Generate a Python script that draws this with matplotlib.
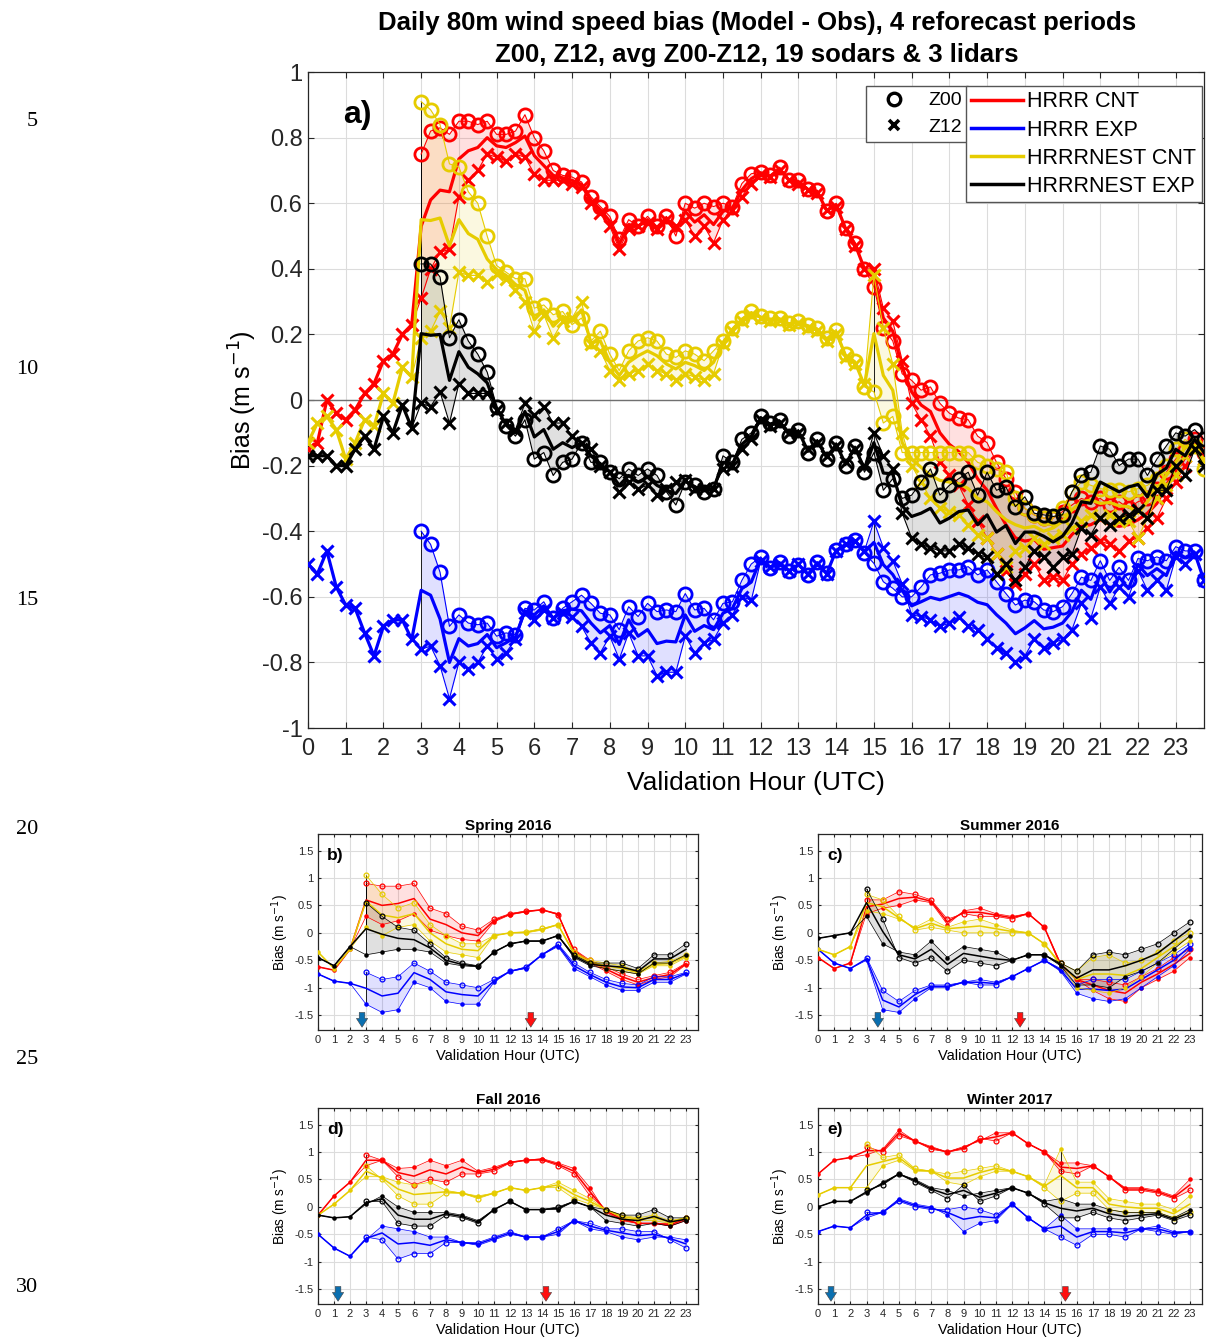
import numpy as np
import matplotlib
matplotlib.use('Agg')
import matplotlib.pyplot as plt
from matplotlib.lines import Line2D

plt.rcParams['font.family'] = ['Liberation Sans', 'DejaVu Sans']
nan = np.nan

models = ['HRRR CNT', 'HRRR EXP', 'HRRRNEST CNT', 'HRRRNEST EXP']
colors = ['#ff0000', '#0000ff', '#e6cc00', '#000000']

# ---- panel a: 15-min validation times, Z00 starts at 03 UTC ----
hours = np.arange(0, 24, 0.25)

hrrr_cnt_z12 = [-0.15, -0.13, 0.00, -0.04, -0.06, -0.03, 0.02, 0.05,
                0.12, 0.14, 0.20, 0.23, 0.31, 0.40, 0.45, 0.46,
                0.62, 0.67, 0.70, 0.75, 0.74, 0.73, 0.75, 0.74,
                0.69, 0.67, 0.67, 0.67, 0.66, 0.65, 0.60, 0.57,
                0.53, 0.46, 0.52, 0.53, 0.54, 0.52, 0.55, 0.53,
                0.55, 0.50, 0.53, 0.48, 0.55, 0.58, 0.62, 0.66,
                0.69, 0.68, 0.70, 0.67, 0.66, 0.64, 0.63, 0.58,
                0.59, 0.52, 0.47, 0.40, 0.40, 0.28, 0.24, 0.12,
                -0.01, -0.06, -0.11, -0.19, -0.23, -0.26, -0.32, -0.37,
                -0.42, -0.47, -0.52, -0.56, -0.53, -0.50, -0.55, -0.54,
                -0.55, -0.50, -0.47, -0.45, -0.43, -0.44, -0.46, -0.43,
                -0.42, -0.39, -0.36, -0.30, -0.25, -0.20, -0.15, -0.18]
hrrr_cnt_z00 = [0.75, 0.82, 0.83, 0.81, 0.85, 0.85, 0.84, 0.85,
                0.81, 0.81, 0.82, 0.87, 0.80, 0.76, 0.70, 0.685,
                0.68, 0.665, 0.62, 0.59, 0.56, 0.49, 0.55, 0.53,
                0.56, 0.53, 0.56, 0.50, 0.60, 0.585, 0.60, 0.59,
                0.60, 0.59, 0.66, 0.69, 0.695, 0.685, 0.71, 0.67,
                0.67, 0.645, 0.64, 0.575, 0.60, 0.525, 0.48, 0.40,
                0.345, 0.22, 0.18, 0.08, 0.06, 0.03, 0.04, -0.01,
                -0.04, -0.055, -0.06, -0.11, -0.13, -0.19, -0.24, -0.28,
                -0.33, -0.35, -0.36, -0.36, -0.34, -0.32, -0.30, -0.31,
                -0.30, -0.32, -0.31, -0.33, -0.31, -0.30, -0.27, -0.22,
                -0.18, -0.15, -0.12, -0.16]

hrrr_exp_z12 = [-0.50, -0.53, -0.46, -0.57, -0.625, -0.635, -0.71, -0.78,
                -0.69, -0.67, -0.67, -0.73, -0.76, -0.75, -0.81, -0.91,
                -0.80, -0.82, -0.80, -0.75, -0.79, -0.77, -0.73, -0.65,
                -0.67, -0.64, -0.665, -0.65, -0.66, -0.69, -0.74, -0.77,
                -0.72, -0.79, -0.71, -0.78, -0.78, -0.84, -0.83, -0.83,
                -0.72, -0.77, -0.74, -0.73, -0.68, -0.655, -0.60, -0.61,
                -0.49, -0.51, -0.50, -0.52, -0.50, -0.53, -0.50, -0.53,
                -0.46, -0.44, -0.43, -0.46, -0.37, -0.45, -0.49, -0.56,
                -0.655, -0.66, -0.67, -0.69, -0.68, -0.66, -0.69, -0.70,
                -0.73, -0.755, -0.77, -0.80, -0.78, -0.73, -0.755, -0.74,
                -0.73, -0.70, -0.62, -0.665, -0.57, -0.62, -0.57, -0.60,
                -0.52, -0.58, -0.55, -0.58, -0.48, -0.50, -0.47, -0.55]
hrrr_exp_z00 = [-0.40, -0.44, -0.525, -0.69, -0.655, -0.68, -0.685, -0.68,
                -0.72, -0.71, -0.715, -0.635, -0.64, -0.615, -0.665, -0.635,
                -0.615, -0.595, -0.62, -0.65, -0.655, -0.70, -0.63, -0.66,
                -0.62, -0.645, -0.64, -0.645, -0.59, -0.64, -0.635, -0.67,
                -0.62, -0.615, -0.55, -0.50, -0.478, -0.513, -0.493, -0.52,
                -0.503, -0.533, -0.493, -0.528, -0.457, -0.44, -0.427, -0.467,
                -0.498, -0.554, -0.574, -0.60, -0.60, -0.57, -0.533, -0.528,
                -0.518, -0.518, -0.508, -0.533, -0.518, -0.554, -0.59, -0.625,
                -0.61, -0.615, -0.64, -0.645, -0.63, -0.59, -0.54, -0.55,
                -0.49, -0.55, -0.51, -0.55, -0.483, -0.49, -0.478, -0.49,
                -0.447, -0.46, -0.46, -0.55]

nest_cnt_z12 = [-0.13, -0.07, -0.05, -0.09, -0.18, -0.13, -0.06, -0.08,
                0.02, -0.01, 0.10, 0.07, 0.19, 0.21, 0.27, 0.22,
                0.39, 0.38, 0.38, 0.36, 0.385, 0.37, 0.335, 0.30,
                0.21, 0.26, 0.19, 0.24, 0.25, 0.30, 0.17, 0.15,
                0.09, 0.06, 0.08, 0.09, 0.11, 0.09, 0.08, 0.06,
                0.08, 0.07, 0.06, 0.08, 0.17, 0.21, 0.24, 0.26,
                0.25, 0.24, 0.245, 0.23, 0.235, 0.22, 0.21, 0.18,
                0.20, 0.13, 0.11, 0.05, 0.38, 0.22, 0.11, -0.10,
                -0.20, -0.25, -0.30, -0.33, -0.34, -0.35, -0.38, -0.41,
                -0.42, -0.47, -0.51, -0.46, -0.45, -0.42, -0.44, -0.42,
                -0.41, -0.39, -0.37, -0.35, -0.36, -0.35, -0.37, -0.37,
                -0.42, -0.36, -0.30, -0.26, -0.23, -0.17, -0.14, -0.18]
nest_cnt_z00 = [0.91, 0.885, 0.84, 0.72, 0.71, 0.635, 0.60, 0.50,
                0.41, 0.39, 0.37, 0.37, 0.28, 0.29, 0.26, 0.27,
                0.23, 0.25, 0.18, 0.21, 0.14, 0.09, 0.15, 0.18,
                0.19, 0.18, 0.14, 0.13, 0.15, 0.14, 0.12, 0.15,
                0.18, 0.22, 0.25, 0.27, 0.255, 0.25, 0.25, 0.235,
                0.24, 0.23, 0.22, 0.19, 0.215, 0.14, 0.12, 0.04,
                0.025, -0.07, -0.05, -0.16, -0.16, -0.16, -0.16, -0.16,
                -0.16, -0.16, -0.16, -0.19, -0.20, -0.21, -0.22, -0.30,
                -0.33, -0.35, -0.36, -0.36, -0.33, -0.28, -0.25, -0.26,
                -0.27, -0.275, -0.275, -0.28, -0.27, -0.26, -0.24, -0.20,
                -0.15, -0.12, -0.14, -0.21]

nest_exp_z12 = [-0.17, -0.17, -0.17, -0.20, -0.20, -0.15, -0.11, -0.15,
                -0.05, -0.10, -0.015, -0.085, -0.01, -0.02, 0.025, -0.07,
                0.05, 0.02, 0.02, 0.02, -0.03, -0.07, -0.09, -0.01,
                -0.045, -0.02, -0.07, -0.07, -0.11, -0.13, -0.15, -0.20,
                -0.22, -0.28, -0.25, -0.27, -0.26, -0.29, -0.27, -0.25,
                -0.245, -0.27, -0.27, -0.27, -0.21, -0.20, -0.15, -0.12,
                -0.06, -0.08, -0.07, -0.10, -0.10, -0.15, -0.13, -0.17,
                -0.14, -0.19, -0.15, -0.20, -0.10, -0.17, -0.21, -0.345,
                -0.42, -0.44, -0.45, -0.46, -0.46, -0.44, -0.45, -0.47,
                -0.48, -0.53, -0.50, -0.55, -0.51, -0.46, -0.48, -0.51,
                -0.48, -0.47, -0.39, -0.41, -0.36, -0.38, -0.36, -0.35,
                -0.335, -0.36, -0.275, -0.275, -0.20, -0.23, -0.15, -0.20]
nest_exp_z00 = [0.415, 0.415, 0.375, 0.19, 0.245, 0.18, 0.14, 0.085,
                -0.02, -0.08, -0.11, -0.06, -0.18, -0.16, -0.23, -0.19,
                -0.18, -0.13, -0.19, -0.19, -0.22, -0.24, -0.21, -0.23,
                -0.21, -0.23, -0.28, -0.32, -0.25, -0.26, -0.28, -0.27,
                -0.17, -0.19, -0.12, -0.10, -0.05, -0.07, -0.06, -0.11,
                -0.09, -0.16, -0.12, -0.18, -0.13, -0.20, -0.14, -0.22,
                -0.16, -0.275, -0.24, -0.30, -0.29, -0.25, -0.21, -0.29,
                -0.26, -0.24, -0.22, -0.29, -0.22, -0.275, -0.265, -0.325,
                -0.295, -0.345, -0.35, -0.355, -0.35, -0.28, -0.23, -0.22,
                -0.14, -0.15, -0.20, -0.18, -0.18, -0.23, -0.18, -0.14,
                -0.10, -0.11, -0.09, -0.12]

# ---- panels b-e: hourly values, Z00 from 03 UTC ----
hrs = np.arange(24)

spr_hrrr_cnt_z12 = [-0.62, -0.68, -0.30, 0.30, 0.15, 0.22, 0.35, 0.05, -0.05, -0.12, -0.15, 0.20,
                    0.33, 0.38, 0.42, 0.35, -0.35, -0.55, -0.70, -0.85, -0.95, -0.85, -0.80, -0.58]
spr_hrrr_cnt_z00 = [0.90, 0.85, 0.85, 0.90, 0.45, 0.35, 0.12, 0.05, 0.25, 0.35, 0.40, 0.42,
                    0.33, -0.30, -0.50, -0.62, -0.75, -0.85, -0.78, -0.72, -0.55]
spr_hrrr_exp_z12 = [-0.75, -0.88, -0.92, -1.30, -1.45, -1.40, -0.90, -1.00, -1.25, -1.30, -1.30, -0.90,
                    -0.70, -0.65, -0.40, -0.25, -0.65, -0.80, -0.95, -1.05, -1.05, -0.90, -0.90, -0.75]
spr_hrrr_exp_z00 = [-0.72, -0.85, -0.80, -0.55, -0.70, -0.90, -0.95, -1.00, -0.85, -0.70, -0.62, -0.40,
                    -0.20, -0.55, -0.72, -0.85, -0.92, -0.95, -0.80, -0.80, -0.72]
spr_nest_cnt_z12 = [-0.35, -0.65, -0.30, 0.10, -0.05, 0.10, 0.15, -0.15, -0.35, -0.40, -0.45, -0.05,
                    0.00, 0.00, 0.05, 0.15, -0.40, -0.55, -0.65, -0.70, -0.75, -0.60, -0.60, -0.45]
spr_nest_cnt_z00 = [1.05, 0.70, 0.45, 0.55, 0.15, -0.05, -0.20, -0.20, -0.05, 0.00, 0.02, 0.08,
                    0.15, -0.35, -0.50, -0.55, -0.60, -0.70, -0.55, -0.52, -0.40]
spr_nest_exp_z12 = [-0.45, -0.60, -0.25, -0.40, -0.35, -0.30, -0.30, -0.35, -0.55, -0.60, -0.62, -0.35,
                    -0.20, -0.15, -0.15, -0.05, -0.45, -0.60, -0.65, -0.70, -0.75, -0.55, -0.55, -0.40]
spr_nest_exp_z00 = [0.55, 0.30, 0.10, 0.05, -0.20, -0.45, -0.55, -0.60, -0.35, -0.20, -0.15, -0.15,
                    -0.05, -0.40, -0.55, -0.55, -0.55, -0.65, -0.40, -0.40, -0.20]

sum_hrrr_cnt_z12 = [-0.45, -0.65, -0.55, 0.35, 0.45, 0.50, 0.60, 0.55, 0.15, 0.40, 0.45, 0.35,
                    0.30, 0.35, 0.10, -0.60, -0.85, -1.05, -1.20, -1.25, -1.00, -0.85, -0.70, -0.45]
sum_hrrr_cnt_z00 = [0.60, 0.60, 0.75, 0.70, 0.60, 0.25, 0.35, 0.30, 0.30, 0.25, 0.35, 0.10,
                    -0.55, -0.85, -0.85, -0.90, -0.95, -0.80, -0.65, -0.45, -0.30]
sum_hrrr_exp_z12 = [-0.30, -0.55, -0.65, -0.50, -1.40, -1.45, -1.20, -1.00, -1.00, -0.90, -0.85, -0.90,
                    -0.80, -0.65, -0.50, -0.70, -1.10, -1.20, -1.25, -1.20, -1.00, -0.80, -0.60, -0.30]
sum_hrrr_exp_z00 = [-0.45, -1.05, -1.25, -1.05, -0.95, -0.95, -0.90, -0.95, -0.95, -0.80, -0.65, -0.50,
                    -0.65, -0.95, -0.85, -0.85, -0.85, -0.70, -0.55, -0.40, -0.20]
sum_nest_cnt_z12 = [-0.30, -0.40, -0.25, 0.40, 0.35, 0.25, 0.10, 0.25, 0.10, 0.20, 0.25, 0.15,
                    0.05, 0.00, -0.20, -0.60, -1.00, -1.05, -1.10, -1.00, -0.80, -0.55, -0.35, -0.15]
sum_nest_cnt_z00 = [0.70, 0.60, 0.30, 0.05, 0.10, 0.05, 0.00, 0.00, 0.00, 0.00, 0.00, -0.20,
                    -0.55, -0.70, -0.45, -0.40, -0.55, -0.50, -0.35, -0.15, 0.00]
sum_nest_exp_z12 = [-0.10, -0.05, 0.00, 0.30, -0.20, -0.35, -0.40, -0.15, -0.45, -0.25, -0.30, -0.35,
                    -0.50, -0.40, -0.40, -0.60, -0.95, -0.95, -1.00, -0.80, -0.70, -0.55, -0.30, -0.05]
sum_nest_exp_z00 = [0.80, 0.25, -0.45, -0.55, -0.45, -0.70, -0.50, -0.55, -0.60, -0.50, -0.40, -0.40,
                    -0.55, -0.70, -0.40, -0.35, -0.40, -0.30, -0.20, 0.00, 0.20]

fal_hrrr_cnt_z12 = [-0.15, 0.20, 0.45, 0.75, 0.85, 0.70, 0.72, 0.85, 0.75, 0.85, 0.65, 0.72,
                    0.82, 0.85, 0.88, 0.80, 0.70, 0.35, -0.10, -0.25, -0.30, -0.30, -0.35, -0.25]
fal_hrrr_cnt_z00 = [0.95, 0.85, 0.55, 0.40, 0.50, 0.45, 0.60, 0.60, 0.65, 0.80, 0.85, 0.85,
                    0.75, 0.60, 0.20, -0.05, -0.20, -0.30, -0.30, -0.30, -0.20]
fal_hrrr_exp_z12 = [-0.50, -0.75, -0.90, -0.60, -0.35, -0.40, -0.45, -0.55, -0.55, -0.65, -0.70, -0.60,
                    -0.50, -0.55, -0.55, -0.50, -0.25, -0.40, -0.45, -0.55, -0.60, -0.55, -0.55, -0.60]
fal_hrrr_exp_z00 = [-0.55, -0.60, -0.95, -0.85, -0.85, -0.65, -0.65, -0.65, -0.55, -0.45, -0.55, -0.55,
                    -0.40, -0.25, -0.30, -0.40, -0.40, -0.45, -0.45, -0.60, -0.75]
fal_nest_cnt_z12 = [-0.15, 0.05, 0.30, 0.55, 0.55, 0.45, 0.40, 0.45, 0.30, 0.25, 0.20, 0.25,
                    0.35, 0.30, 0.35, 0.45, 0.30, 0.15, -0.05, -0.20, -0.25, -0.25, -0.30, -0.20]
fal_nest_cnt_z00 = [0.75, 0.50, 0.20, 0.05, 0.05, 0.25, 0.25, 0.15, 0.25, 0.35, 0.30, 0.35,
                    0.35, 0.15, 0.05, -0.05, -0.15, -0.20, -0.15, -0.25, -0.20]
fal_nest_exp_z12 = [-0.15, -0.20, -0.18, 0.05, 0.20, 0.00, -0.10, -0.10, -0.10, -0.15, -0.25, -0.05,
                    0.10, -0.05, -0.05, -0.05, 0.10, 0.00, -0.25, -0.30, -0.35, -0.30, -0.35, -0.25]
fal_nest_exp_z00 = [0.10, 0.10, -0.30, -0.35, -0.35, -0.15, -0.20, -0.30, -0.05, 0.10, -0.05, -0.05,
                    0.00, 0.10, 0.00, -0.05, -0.15, -0.15, -0.05, -0.20, -0.20]

win_hrrr_cnt_z12 = [0.60, 0.85, 0.90, 0.95, 1.05, 1.40, 1.20, 1.10, 1.00, 1.10, 1.20, 1.35,
                    1.35, 1.15, 1.00, 0.80, 0.80, 0.75, 0.55, 0.35, 0.35, 0.30, 0.20, 0.50]
win_hrrr_cnt_z00 = [1.10, 1.00, 1.30, 1.20, 1.05, 1.00, 1.05, 1.25, 1.20, 1.35, 1.15, 1.00,
                    0.65, 0.60, 0.75, 0.55, 0.30, 0.30, 0.25, 0.15, 0.30]
win_hrrr_exp_z12 = [-0.45, -0.35, -0.38, -0.20, -0.10, 0.15, 0.05, 0.00, -0.15, -0.45, -0.30, -0.25,
                    0.05, -0.20, -0.40, -0.15, -0.40, -0.40, -0.40, -0.40, -0.40, -0.35, -0.45, -0.45]
win_hrrr_exp_z00 = [-0.10, -0.10, 0.10, 0.00, -0.05, -0.05, 0.00, -0.05, -0.15, 0.05, -0.20, -0.40,
                    -0.55, -0.70, -0.50, -0.50, -0.55, -0.40, -0.45, -0.50, -0.45]
win_nest_cnt_z12 = [0.22, 0.35, 0.35, 0.35, 0.75, 0.85, 0.65, 0.65, 0.45, 0.40, 0.55, 0.65,
                    0.65, 0.55, 0.40, 1.05, 0.45, 0.45, 0.15, 0.10, 0.05, 0.05, -0.05, 0.20]
win_nest_cnt_z00 = [1.15, 0.90, 0.95, 0.70, 0.65, 0.60, 0.65, 0.70, 0.75, 0.65, 0.55, 0.35,
                    0.10, 0.25, 0.25, -0.05, -0.10, -0.10, -0.10, -0.20, -0.10]
win_nest_exp_z12 = [0.00, 0.10, 0.10, 0.25, 0.45, 0.60, 0.50, 0.35, 0.30, 0.20, 0.25, 0.30,
                    0.35, 0.25, 0.10, 0.15, 0.05, 0.05, -0.05, -0.10, -0.10, -0.10, -0.20, -0.05]
win_nest_exp_z00 = [0.30, 0.40, 0.60, 0.45, 0.30, 0.15, 0.40, 0.10, 0.20, 0.35, 0.25, 0.05,
                    -0.20, -0.20, -0.10, -0.20, -0.25, -0.20, -0.15, -0.25, -0.15]

season_titles = ['Spring 2016', 'Summer 2016', 'Fall 2016', 'Winter 2017']
season_labels = ['b)', 'c)', 'd)', 'e)']
arrow_blue = [2.75, 3.7, 1.25, 0.8]
arrow_red = [13.3, 12.5, 14.25, 15.3]


def pad_z00(x, z00):
    z00 = np.asarray(z00, float)
    return np.concatenate([np.full(len(x) - len(z00), nan), z00])


def draw_model(ax, x, z00, z12, color, k, big):
    z12 = np.asarray(z12, float)
    z00 = pad_z00(x, z00)
    has = ~np.isnan(z00)
    avg = np.where(has, (z00 + z12) / 2, z12)
    ax.fill_between(x, z00, z12, where=has, color=color, alpha=0.12, lw=0, zorder=1)
    for h in (3, 15):
        i = np.searchsorted(x, h)
        ax.plot([h, h], [z00[i], z12[i]], color='k', lw=0.6, zorder=2)
    if big:
        ax.plot(x, z12, color=color, lw=0.8, marker='x', ms=8.5, mew=2.2, zorder=3 + k)
        ax.plot(x, z00, color=color, lw=0.8, marker='o', mfc='none', ms=9.5, mew=2.0, zorder=3 + k)
        ax.plot(x, avg, color=color, lw=2.3, zorder=3.5 + k)
    else:
        ax.plot(x, z12, color=color, lw=0.5, marker='.', ms=4.5, zorder=3 + k)
        ax.plot(x, z00, color=color, lw=0.5, marker='o', mfc='none', ms=3.5, mew=0.9, zorder=3 + k)
        ax.plot(x, avg, color=color, lw=1.1, zorder=3.5 + k)


def style_axes(ax, fs, pad):
    ax.set_xlim(0, 23.75)
    ax.set_xticks(range(24))
    ax.tick_params(direction='in', top=True, right=True, labelsize=fs, colors='#262626',
                   length=4 if fs > 10 else 2.5, width=0.8)
    ax.tick_params(axis='x', pad=pad)
    ax.grid(True, color='#dcdcdc', lw=0.8)
    ax.set_axisbelow(True)
    for s in ax.spines.values():
        s.set_color('#262626')
        s.set_linewidth(0.9)


fig = plt.figure(figsize=(12.13, 13.42), dpi=100)

# ---- panel a ----
ax = fig.add_axes([0.2539, 0.4575, 0.7387, 0.4888])
series_a = [(hrrr_cnt_z00, hrrr_cnt_z12), (hrrr_exp_z00, hrrr_exp_z12),
            (nest_cnt_z00, nest_cnt_z12), (nest_exp_z00, nest_exp_z12)]
for k, ((z00, z12), c) in enumerate(zip(series_a, colors)):
    draw_model(ax, hours, z00, z12, c, k, True)
ax.axhline(0, color='#707070', lw=1.0, zorder=2.5)
style_axes(ax, 17, 7)
ax.tick_params(axis='y', pad=4)
ax.set_ylim(-1, 1)
yt = np.arange(-1, 1.01, 0.2)
ax.set_yticks(yt)
ax.set_yticklabels([f"{round(v, 1) + 0:g}" for v in yt])
ax.set_xlabel('Validation Hour (UTC)', fontsize=19, labelpad=8)
ax.set_ylabel('Bias (m s$^{-1}$)', fontsize=18, labelpad=2)
ax.text(0.055, 0.935, 'a)', transform=ax.transAxes, fontsize=23, fontweight='bold',
        ha='center', va='center', zorder=20)

mk_handles = [Line2D([], [], ls='none', marker='o', mfc='none', mec='k', ms=9, mew=2.4),
              Line2D([], [], ls='none', marker='x', color='k', ms=7, mew=2.6)]
leg1 = ax.legend(mk_handles, ['Z00', 'Z12'], loc='upper left', bbox_to_anchor=(0.6228, 0.9787),
                 fontsize=14, fancybox=False, framealpha=1, edgecolor='#555555', borderaxespad=0,
                 handlelength=2.3, handletextpad=0.6, borderpad=0.3, labelspacing=0.45)
leg1.set_zorder(30)
ax.add_artist(leg1)
ln_handles = [Line2D([], [], color=c, lw=2.5) for c in colors]
leg2 = ax.legend(ln_handles, models, loc='upper left', bbox_to_anchor=(0.7344, 0.9787),
                 fontsize=15.5, fancybox=False, framealpha=1, edgecolor='#555555', borderaxespad=0,
                 handlelength=2.4, handletextpad=0.2, borderpad=0.25, labelspacing=0.33)
leg2.set_zorder(30)

fig.text(0.624, 0.983, 'Daily 80m wind speed bias (Model - Obs), 4 reforecast periods',
         ha='center', va='center', fontsize=18.5, fontweight='bold')
fig.text(0.624, 0.959, 'Z00, Z12, avg Z00-Z12, 19 sodars & 3 lidars',
         ha='center', va='center', fontsize=18.5, fontweight='bold')

# ---- panels b-e ----
seasons = [
    [(spr_hrrr_cnt_z00, spr_hrrr_cnt_z12), (spr_hrrr_exp_z00, spr_hrrr_exp_z12),
     (spr_nest_cnt_z00, spr_nest_cnt_z12), (spr_nest_exp_z00, spr_nest_exp_z12)],
    [(sum_hrrr_cnt_z00, sum_hrrr_cnt_z12), (sum_hrrr_exp_z00, sum_hrrr_exp_z12),
     (sum_nest_cnt_z00, sum_nest_cnt_z12), (sum_nest_exp_z00, sum_nest_exp_z12)],
    [(fal_hrrr_cnt_z00, fal_hrrr_cnt_z12), (fal_hrrr_exp_z00, fal_hrrr_exp_z12),
     (fal_nest_cnt_z00, fal_nest_cnt_z12), (fal_nest_exp_z00, fal_nest_exp_z12)],
    [(win_hrrr_cnt_z00, win_hrrr_cnt_z12), (win_hrrr_exp_z00, win_hrrr_exp_z12),
     (win_nest_cnt_z00, win_nest_cnt_z12), (win_nest_exp_z00, win_nest_exp_z12)],
]
rects = [[0.2622, 0.2325, 0.3132, 0.146], [0.6744, 0.2325, 0.3165, 0.146],
         [0.2622, 0.0283, 0.3132, 0.146], [0.6744, 0.0283, 0.3165, 0.146]]
for j in range(4):
    ax = fig.add_axes(rects[j])
    for k, ((z00, z12), c) in enumerate(zip(seasons[j], colors)):
        draw_model(ax, hrs, z00, z12, c, k, False)
    style_axes(ax, 8, 3.5)
    ax.set_ylim(-1.77, 1.8)
    st = [-1.5, -1, -0.5, 0, 0.5, 1, 1.5]
    ax.set_yticks(st)
    ax.set_yticklabels([f"{v:g}" for v in st])
    ax.set_xlabel('Validation Hour (UTC)', fontsize=10.5, labelpad=3)
    ax.set_ylabel('Bias (m s$^{-1}$)', fontsize=9.8, labelpad=2)
    ax.set_title(season_titles[j], fontsize=11, fontweight='bold', pad=3)
    ax.text(0.045, 0.89, season_labels[j], transform=ax.transAxes, fontsize=12.5,
            fontweight='bold', ha='center', va='center', zorder=20)
    for xa, ca in ((arrow_blue[j], '#0a6fb0'), (arrow_red[j], '#ff1010')):
        ax.annotate('', xy=(xa, -1.77), xytext=(xa, -1.4),
                    arrowprops=dict(arrowstyle='simple,head_width=0.9,head_length=0.7,tail_width=0.45',
                                    fc=ca, ec='#404040', lw=0.4, mutation_scale=9),
                    zorder=15)

# manuscript line numbers
for num, ypx in zip([5, 10, 15, 20, 25, 30], [122, 370, 600, 830, 1060, 1288]):
    fig.text(38 / 1213, 1 - ypx / 1342, str(num), ha='right', va='center',
             fontsize=16, family=['Liberation Serif', 'DejaVu Serif'])

fig.savefig('out.png', dpi=100)
